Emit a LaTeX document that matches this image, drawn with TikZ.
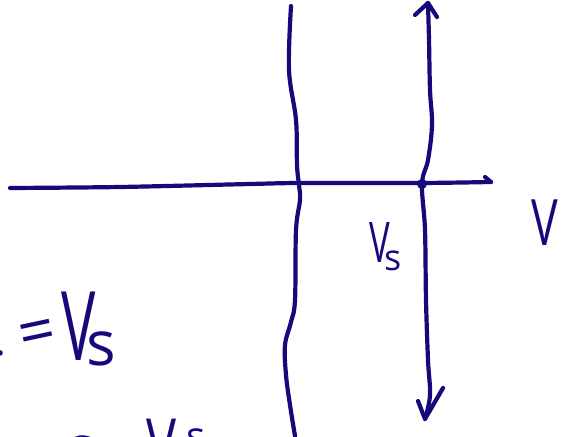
\documentclass[tikz,border=0pt]{standalone}
\usepackage{fontspec}
\setsansfont{Open Sans}
\definecolor{ink}{RGB}{22,10,122}
\begin{document}
\begin{tikzpicture}[x=1pt,y=-1pt,
  pen/.style={draw=ink,line width=4.2pt,line cap=round,line join=round},
  hand/.style={text=ink,font=\sffamily,inner sep=0pt,anchor=base west}]
\useasboundingbox (0,0) rectangle (561,436);
\clip (0,0) rectangle (561,436);
% horizontal axis
\coordinate (hl) at (10,188);
\coordinate (hr) at (491,182);
\draw[pen] plot[smooth] coordinates {(hl) (120,187) (250,184) (300,183) (420,183) (hr)};
\draw[pen] (485,177) -- (hr);
% wavy vertical line
\draw[pen] plot[smooth,tension=0.6] coordinates {(291,6) (289,70) (296,120) (297,165) (299,185) (300,200) (296,230) (295,300) (291,322) (285,345) (286,375) (290,405) (295,436)};
% vertical double arrow
\coordinate (vt) at (428,3);
\coordinate (vb) at (425,419);
\node[circle,fill=ink,inner sep=0pt,minimum size=10pt] (dot) at (422,184) {};
\draw[pen] plot[smooth,tension=0.6] coordinates {(vt) (429,40) (430,90) (432,125) (428,160) (dot.center) (425,230) (426,300) (428,360) (430,395) (vb)};
\draw[pen] (415,15) -- (vt) -- (437,17);
\draw[pen] (418,401) -- (vb) -- (443,388);
% labels
\node[hand,font=\sffamily\fontsize{56}{56}\selectfont] (vs1) at (369,262) {\scalebox{0.62}[1]{V}};
\node[hand,font=\sffamily\fontsize{36}{36}\selectfont] (s1) at (384,270) {s};
\node[hand,font=\sffamily\fontsize{64}{64}\selectfont] (vr) at (531,245) {\scalebox{0.7}[1]{V}};
\node[hand,font=\sffamily\fontsize{96}{96}\selectfont] (vs2) at (61,360) {\scalebox{0.6}[1]{V}};
\node[hand,font=\sffamily\fontsize{62}{62}\selectfont] (s2) at (86,365) {s};
\node[hand,font=\sffamily\fontsize{64}{64}\selectfont] (eq) at (17,356) {\rotatebox{12}{=}};
\node[hand,font=\sffamily\fontsize{40}{40}\selectfont] (dt) at (-5,355) {.};
\node[hand,font=\sffamily\fontsize{60}{60}\selectfont] (bt) at (64,468) {c};
\node[hand,font=\sffamily\fontsize{72}{72}\selectfont] (bv) at (146,470) {\scalebox{0.7}[1]{V}};
\node[hand,font=\sffamily\fontsize{40}{40}\selectfont] (bs) at (186,450) {s};
\end{tikzpicture}
\end{document}
